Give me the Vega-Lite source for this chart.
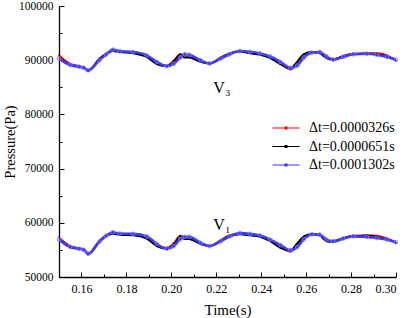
{
  "$schema": "https://vega.github.io/schema/vega-lite/v6.json",
  "width": 337,
  "height": 271,
  "autosize": {"type": "none"},
  "padding": {"left": 59, "top": 6, "right": 12, "bottom": 41},
  "background": "white",
  "config": {
    "view": {"stroke": null},
    "font": "Liberation Serif",
    "axis": {
      "grid": false,
      "domainColor": "black",
      "domainWidth": 1.3,
      "tickColor": "black",
      "tickWidth": 1,
      "labelColor": "black",
      "labelFont": "Liberation Serif",
      "labelFontSize": 12,
      "labelFontWeight": "normal",
      "titleFont": "Liberation Serif",
      "titleFontWeight": "normal",
      "titleColor": "black",
      "titleFontSize": 15
    }
  },
  "datasets": {
    "series": [
      {"probe": "V3", "t": 0.150, "r": 90900, "k": 90500, "b": 90300},
      {"probe": "V3", "t": 0.155, "r": 89300, "k": 89100, "b": 89100},
      {"probe": "V3", "t": 0.159, "r": 88900, "k": 88800, "b": 88800},
      {"probe": "V3", "t": 0.161, "r": 88700, "k": 88600, "b": 88600},
      {"probe": "V3", "t": 0.163, "r": 88100, "k": 88000, "b": 88150},
      {"probe": "V3", "t": 0.168, "r": 90300, "k": 90200, "b": 90000},
      {"probe": "V3", "t": 0.171, "r": 91200, "k": 91100, "b": 91050},
      {"probe": "V3", "t": 0.174, "r": 91800, "k": 91700, "b": 91950},
      {"probe": "V3", "t": 0.177, "r": 91600, "k": 91500, "b": 91650},
      {"probe": "V3", "t": 0.183, "r": 91400, "k": 91300, "b": 91500},
      {"probe": "V3", "t": 0.189, "r": 90800, "k": 90600, "b": 90900},
      {"probe": "V3", "t": 0.1935, "r": 89500, "k": 89300, "b": 89700},
      {"probe": "V3", "t": 0.198, "r": 89000, "k": 88900, "b": 88900},
      {"probe": "V3", "t": 0.201, "r": 89900, "k": 89600, "b": 89300},
      {"probe": "V3", "t": 0.204, "r": 91100, "k": 91000, "b": 90500},
      {"probe": "V3", "t": 0.206, "r": 90900, "k": 90500, "b": 91100},
      {"probe": "V3", "t": 0.208, "r": 90600, "k": 90500, "b": 91000},
      {"probe": "V3", "t": 0.213, "r": 89800, "k": 89700, "b": 90000},
      {"probe": "V3", "t": 0.217, "r": 89400, "k": 89400, "b": 89400},
      {"probe": "V3", "t": 0.222, "r": 90500, "k": 90400, "b": 90300},
      {"probe": "V3", "t": 0.226, "r": 91300, "k": 91200, "b": 91100},
      {"probe": "V3", "t": 0.2305, "r": 91600, "k": 91600, "b": 91700},
      {"probe": "V3", "t": 0.235, "r": 91400, "k": 91300, "b": 91550},
      {"probe": "V3", "t": 0.2395, "r": 91100, "k": 91000, "b": 91250},
      {"probe": "V3", "t": 0.244, "r": 90600, "k": 90400, "b": 90700},
      {"probe": "V3", "t": 0.2485, "r": 89400, "k": 89300, "b": 89700},
      {"probe": "V3", "t": 0.253, "r": 88300, "k": 88500, "b": 88600},
      {"probe": "V3", "t": 0.256, "r": 89500, "k": 89700, "b": 89000},
      {"probe": "V3", "t": 0.259, "r": 91000, "k": 91100, "b": 90500},
      {"probe": "V3", "t": 0.2625, "r": 91400, "k": 91500, "b": 91400},
      {"probe": "V3", "t": 0.266, "r": 91500, "k": 91300, "b": 91500},
      {"probe": "V3", "t": 0.269, "r": 90600, "k": 90400, "b": 90700},
      {"probe": "V3", "t": 0.272, "r": 90200, "k": 90100, "b": 90100},
      {"probe": "V3", "t": 0.2765, "r": 90800, "k": 90700, "b": 90600},
      {"probe": "V3", "t": 0.281, "r": 91200, "k": 91100, "b": 91100},
      {"probe": "V3", "t": 0.287, "r": 91300, "k": 91200, "b": 91200},
      {"probe": "V3", "t": 0.2915, "r": 91300, "k": 91100, "b": 91000},
      {"probe": "V3", "t": 0.296, "r": 90900, "k": 90700, "b": 90600},
      {"probe": "V3", "t": 0.300, "r": 89900, "k": 90000, "b": 90100},
      {"probe": "V1", "t": 0.150, "r": 57300, "k": 57000, "b": 56900},
      {"probe": "V1", "t": 0.155, "r": 55700, "k": 55500, "b": 55550},
      {"probe": "V1", "t": 0.159, "r": 55300, "k": 55200, "b": 55200},
      {"probe": "V1", "t": 0.161, "r": 55100, "k": 55000, "b": 55000},
      {"probe": "V1", "t": 0.163, "r": 54300, "k": 54200, "b": 54300},
      {"probe": "V1", "t": 0.168, "r": 56700, "k": 56600, "b": 56500},
      {"probe": "V1", "t": 0.171, "r": 57700, "k": 57600, "b": 57600},
      {"probe": "V1", "t": 0.174, "r": 58100, "k": 58000, "b": 58250},
      {"probe": "V1", "t": 0.177, "r": 57900, "k": 57800, "b": 58000},
      {"probe": "V1", "t": 0.183, "r": 57800, "k": 57700, "b": 57950},
      {"probe": "V1", "t": 0.189, "r": 57300, "k": 57100, "b": 57500},
      {"probe": "V1", "t": 0.1935, "r": 55900, "k": 55700, "b": 56100},
      {"probe": "V1", "t": 0.198, "r": 55400, "k": 55200, "b": 55200},
      {"probe": "V1", "t": 0.201, "r": 56200, "k": 55900, "b": 55700},
      {"probe": "V1", "t": 0.204, "r": 57600, "k": 57400, "b": 57000},
      {"probe": "V1", "t": 0.206, "r": 57300, "k": 57000, "b": 57400},
      {"probe": "V1", "t": 0.208, "r": 57100, "k": 57000, "b": 57400},
      {"probe": "V1", "t": 0.213, "r": 56200, "k": 56100, "b": 56300},
      {"probe": "V1", "t": 0.217, "r": 55700, "k": 55700, "b": 55700},
      {"probe": "V1", "t": 0.222, "r": 56800, "k": 56700, "b": 56600},
      {"probe": "V1", "t": 0.226, "r": 57700, "k": 57600, "b": 57500},
      {"probe": "V1", "t": 0.2305, "r": 58000, "k": 57900, "b": 58100},
      {"probe": "V1", "t": 0.235, "r": 57800, "k": 57700, "b": 57950},
      {"probe": "V1", "t": 0.2395, "r": 57500, "k": 57400, "b": 57650},
      {"probe": "V1", "t": 0.244, "r": 56800, "k": 56600, "b": 56900},
      {"probe": "V1", "t": 0.2485, "r": 55600, "k": 55400, "b": 55900},
      {"probe": "V1", "t": 0.253, "r": 54700, "k": 54900, "b": 54950},
      {"probe": "V1", "t": 0.256, "r": 55900, "k": 56200, "b": 55500},
      {"probe": "V1", "t": 0.259, "r": 57400, "k": 57500, "b": 57000},
      {"probe": "V1", "t": 0.2625, "r": 57800, "k": 57900, "b": 57900},
      {"probe": "V1", "t": 0.266, "r": 57900, "k": 57700, "b": 57800},
      {"probe": "V1", "t": 0.269, "r": 56800, "k": 56600, "b": 56900},
      {"probe": "V1", "t": 0.272, "r": 56600, "k": 56500, "b": 56600},
      {"probe": "V1", "t": 0.2765, "r": 57200, "k": 57100, "b": 57100},
      {"probe": "V1", "t": 0.281, "r": 57600, "k": 57500, "b": 57500},
      {"probe": "V1", "t": 0.287, "r": 57700, "k": 57600, "b": 57400},
      {"probe": "V1", "t": 0.2915, "r": 57600, "k": 57400, "b": 57200},
      {"probe": "V1", "t": 0.296, "r": 57100, "k": 56900, "b": 56900},
      {"probe": "V1", "t": 0.300, "r": 56300, "k": 56400, "b": 56400}
    ],
    "labels": [
      {"t": 0.2225, "p": 84900, "txt": "V₃"},
      {"t": 0.2225, "p": 59600, "txt": "V₁"}
    ]
  },
  "resolve": {"axis": {"x": "independent", "y": "independent"}},
  "layer": [
    {
      "data": {"name": "series"},
      "transform": [
        {"fold": ["r", "k", "b"], "as": ["dt", "p"]},
        {"filter": "datum.dt != 'b'"}
      ],
      "mark": {"type": "line", "strokeWidth": 2, "interpolate": "monotone", "clip": true},
      "encoding": {
        "x": {
          "field": "t", "type": "quantitative",
          "scale": {"domain": [0.15, 0.30], "nice": false, "zero": false},
          "axis": {
            "orient": "bottom",
            "values": [0.16, 0.18, 0.20, 0.22, 0.24, 0.26, 0.28, 0.30],
            "format": ".2f",
            "tickSize": -5,
            "labelPadding": 11,
            "title": "Time(s)",
            "titleFontWeight": "normal",
            "titlePadding": 8
          }
        },
        "y": {
          "field": "p", "type": "quantitative",
          "scale": {"domain": [50000, 100000], "nice": false, "zero": false},
          "axis": {
            "orient": "left",
            "values": [50000, 60000, 70000, 80000, 90000, 100000],
            "format": "d",
            "tickSize": -5,
            "labelPadding": 11,
            "labelFontSize": 11.5,
            "title": "Pressure(Pa)",
            "titleFontWeight": "normal",
            "titleFontSize": 14.5,
            "titlePadding": 1
          }
        },
        "color": {
          "field": "dt", "type": "nominal",
          "scale": {"domain": ["r", "k", "b"], "range": ["#ff0000", "#000000", "#3333ff"]},
          "legend": {
            "orient": "none",
            "legendX": 217,
            "legendY": 112,
            "title": null,
            "labelExpr": "datum.value == 'r' ? 'Δt=0.0000326s' : datum.value == 'k' ? 'Δt=0.0000651s' : 'Δt=0.0001302s'",
            "labelFont": "Liberation Serif",
            "labelFontWeight": "normal",
            "labelFontSize": 14,
            "labelColor": "black",
            "symbolType": "M-1.5,0H1.5M-0.1,-0.1H0.1V0.1H-0.1Z",
            "symbolSize": 324,
            "symbolStrokeWidth": 1.2,
            "symbolFillColor": "transparent",
            "rowPadding": 1.5,
            "labelOffset": 13
          }
        },
        "detail": {"field": "probe", "type": "nominal"}
      }
    },
    {
      "data": {"name": "series"},
      "transform": [
        {"fold": ["r", "k", "b"], "as": ["dt", "p"]},
        {"filter": "datum.dt == 'r'"}
      ],
      "mark": {"type": "point", "shape": "square", "filled": true, "size": 3, "color": "black"},
      "encoding": {
        "x": {"field": "t", "type": "quantitative", "axis": null},
        "y": {"field": "p", "type": "quantitative", "axis": null}
      }
    },
    {
      "data": {"name": "series"},
      "transform": [
        {"fold": ["r", "k", "b"], "as": ["dt", "p"]},
        {"filter": "datum.dt == 'b'"}
      ],
      "mark": {"type": "line", "strokeWidth": 2.6, "interpolate": "monotone", "color": "#3b3bff", "clip": true},
      "encoding": {
        "x": {"field": "t", "type": "quantitative", "axis": null},
        "y": {"field": "p", "type": "quantitative", "axis": null},
        "detail": {"field": "probe", "type": "nominal"}
      }
    },
    {
      "data": {"name": "series"},
      "transform": [
        {"fold": ["r", "k", "b"], "as": ["dt", "p"]},
        {"filter": "datum.dt == 'b'"}
      ],
      "mark": {"type": "point", "shape": "circle", "size": 14, "strokeWidth": 1, "color": "#7a7aff", "filled": false, "opacity": 0.9},
      "encoding": {
        "x": {"field": "t", "type": "quantitative", "axis": null},
        "y": {"field": "p", "type": "quantitative", "axis": null}
      }
    },
    {
      "data": {"name": "labels"},
      "mark": {"type": "text", "font": "Liberation Serif", "fontSize": 16, "color": "black"},
      "encoding": {
        "x": {
          "field": "t", "type": "quantitative",
          "axis": {
            "orient": "bottom",
            "values": [0.15, 0.17, 0.19, 0.21, 0.23, 0.25, 0.27, 0.29],
            "labels": false, "domain": false, "tickSize": -3, "title": null
          }
        },
        "y": {
          "field": "p", "type": "quantitative",
          "axis": {
            "orient": "left",
            "values": [55000, 65000, 75000, 85000, 95000],
            "labels": false, "domain": false, "tickSize": -3, "title": null
          }
        },
        "text": {"field": "txt", "type": "nominal"}
      }
    }
  ]
}
